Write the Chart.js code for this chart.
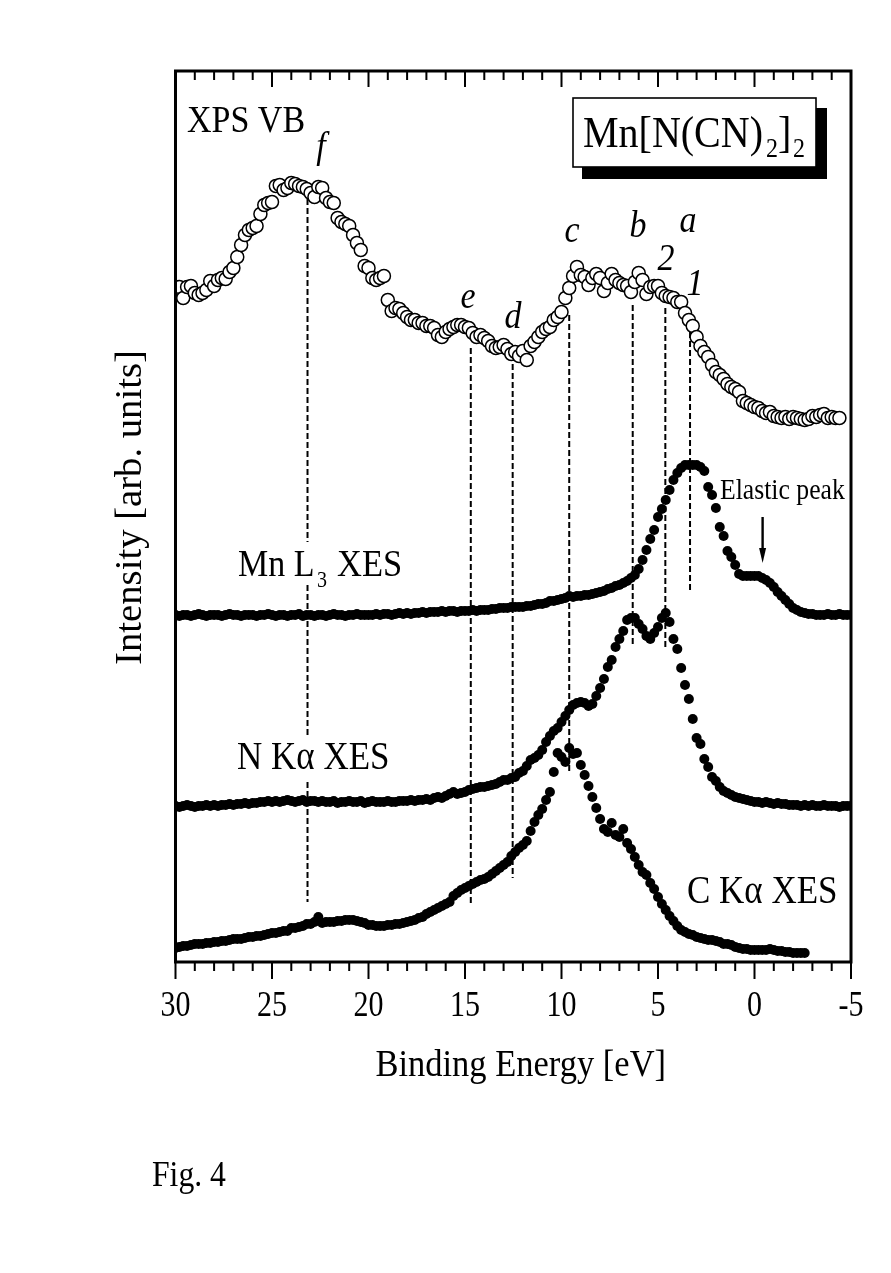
<!DOCTYPE html>
<html><head><meta charset="utf-8">
<style>html,body{margin:0;padding:0;background:#fff}canvas{display:block}</style>
<script src="https://cdn.jsdelivr.net/npm/chart.js@4"></script>
</head><body><canvas id="c" width="891" height="1273"></canvas>
<script>
const energy = [
30,29.8,29.6,29.4,29.2,29,28.8,28.6,28.4,28.2,
28,27.8,27.6,27.4,27.2,27,26.8,26.6,26.4,26.2,
26,25.8,25.6,25.4,25.2,25,24.8,24.6,24.4,24.2,
24,23.8,23.6,23.4,23.2,23,22.8,22.6,22.4,22.2,
22,21.8,21.6,21.4,21.2,21,20.8,20.6,20.4,20.2,
20,19.8,19.6,19.4,19.2,19,18.8,18.6,18.4,18.2,
18,17.8,17.6,17.4,17.2,17,16.8,16.6,16.4,16.2,
16,15.8,15.6,15.4,15.2,15,14.8,14.6,14.4,14.2,
14,13.8,13.6,13.4,13.2,13,12.8,12.6,12.4,12.2,
12,11.8,11.6,11.4,11.2,11,10.8,10.6,10.4,10.2,
10,9.8,9.6,9.4,9.2,9,8.8,8.6,8.4,8.2,
8,7.8,7.6,7.4,7.2,7,6.8,6.6,6.4,6.2,
6,5.8,5.6,5.4,5.2,5,4.8,4.6,4.4,4.2,
4,3.8,3.6,3.4,3.2,3,2.8,2.6,2.4,2.2,
2,1.8,1.6,1.4,1.2,1,0.8,0.6,0.4,0.2,
0,-0.2,-0.4,-0.6,-0.8,-1,-1.2,-1.4,-1.6,-1.8,
-2,-2.2,-2.4,-2.6,-2.8,-3,-3.2,-3.4,-3.6,-3.8,
-4,-4.2,-4.4,-4.6,-4.8,-5];

const xpsVB = [
null,675,664,675,676,669,667,669,672,681,
676,682,684,683,690,694,705,717,727,732,
734,736,748,757,759,760,776,777,772,774,
779,778,776,775,773,769,765,775,774,764,
760,759,744,740,738,736,727,719,712,696,
694,684,682,684,686,662,651,654,653,649,
645,642,642,639,639,636,636,634,627,625,
630,633,635,637,637,635,634,629,625,627,
624,621,616,614,615,617,613,608,610,606,
611,602,616,620,625,630,633,635,642,645,
650,664,674,686,695,687,685,677,684,688,
684,671,679,688,682,679,677,676,670,680,
689,682,668,675,676,676,669,666,665,664,
660,660,649,642,636,625,616,610,605,597,
590,587,583,578,575,573,570,561,559,557,
555,554,551,549,550,546,545,544,545,543,
545,544,543,542,543,546,545,547,548,544,
545,544,544,null,null,null];

const mnL3 = [
347,346,347,347,346,347,348,347,346,347,
347,347,346,347,348,347,347,346,347,347,
347,346,347,347,348,347,346,347,347,346,
347,347,348,346,347,347,346,347,347,346,
347,348,347,347,346,347,347,348,347,347,
347,347,348,347,348,348,347,348,349,348,
349,348,349,349,350,349,350,350,350,351,
350,351,351,350,351,351,351,352,351,352,
352,352,353,353,354,354,354,355,355,355,
355,356,356,357,358,358,359,361,361,362,
363,364,366,365,366,366,367,367,368,369,
370,371,373,374,376,377,379,381,384,387,
393,402,412,423,432,445,453,462,472,482,
489,494,497,497,497,497,495,491,475,467,
454,435,426,411,405,397,388,386,386,386,
386,386,384,382,379,375,370,366,362,358,
354,352,350,349,348,348,347,347,347,348,
347,347,348,347,347,347];

const nKa = [
156,155,156,157,156,155,156,156,157,156,
157,156,157,157,158,157,158,158,159,158,
159,159,160,160,161,160,161,160,161,162,
161,160,161,162,160,161,161,160,161,160,
160,161,159,160,160,161,160,160,161,159,
160,161,160,160,160,161,160,160,161,161,
161,162,161,162,162,163,162,164,165,164,
166,168,170,168,169,170,172,173,174,175,
175,176,177,178,180,182,182,184,185,189,
191,196,202,204,207,212,220,226,231,234,
240,246,252,257,259,260,259,256,258,266,
274,283,295,302,315,323,331,342,344,344,
338,333,326,323,329,335,344,349,340,323,
313,294,277,263,243,224,218,203,195,185,
181,175,171,169,167,165,164,163,162,161,
160,160,159,160,159,158,159,158,158,157,
157,157,156,157,156,157,156,156,157,156,
156,156,155,156,156,156];

const cKa = [
14,15,16,16,17,18,18,18,19,19,
20,20,21,21,22,23,23,23,24,25,
25,26,26,27,28,29,29,30,31,31,
34,34,35,36,38,38,40,45,39,40,
40,40,41,41,42,42,42,41,40,39,
37,37,36,36,36,37,37,38,38,39,
40,41,42,44,45,48,50,52,54,56,
58,60,66,69,72,74,76,78,80,82,
83,85,88,91,94,97,100,106,110,114,
117,121,131,140,147,153,162,170,190,209,
205,200,214,208,209,197,187,176,165,154,
143,133,130,139,127,125,133,119,113,105,
97,90,87,79,73,65,58,52,46,41,
36,32,30,28,27,25,24,23,22,22,
21,20,18,18,17,15,14,13,13,12,
12,12,12,12,13,12,11,11,10,10,
9,9,9,9,null,null,null,null,null,null,
null,null,null,null,null,null];

const xTickValues = [30,25,20,15,10,5,0,-5];
const dropF = [[23.16,772],[23.16,420],[23.16,null],[23.16,377],[23.16,227],[23.16,null],[23.16,180],[23.16,60]];
const dropE = [[14.7,614],[14.7,59]];
const dropD = [[12.53,607],[12.53,84]];
const dropC = [[9.6,647],[9.6,190]];
const dropB = [[6.31,657],[6.31,317]];
const drop2 = [[4.62,654],[4.62,315]];
const drop1 = [[3.34,630],[3.34,370]];
const elasticArrow = {energy:-0.42, from:445, to:399};

const SERIF = '"Liberation Serif","Times New Roman",serif';
const pts = v => energy.map((e,i)=>({x:e,y:v[i]})).filter(p=>p.y!==null);
const linePts = a => a.map(p=>({x:p[0],y:p[1]}));
const dash = (label,a)=>({label,data:linePts(a),showLine:true,spanGaps:false,borderColor:'#000',borderWidth:2,borderDash:[6,3],pointRadius:0,order:5,fill:false});
const filled = (label,v)=>({label,data:pts(v),showLine:false,pointRadius:5,pointBackgroundColor:'#000',pointBorderColor:'#000',pointBorderWidth:0,order:2});

function around(ctx,cx,cy,sx,sy,dx,dy,fn){
  ctx.save();ctx.translate(cx+dx,cy+dy);ctx.scale(sx,sy);ctx.translate(-cx,-cy);fn();ctx.restore();
}
const VS = 1.13;
function txt(ctx,s,x,y,size,opt={}){
  ctx.save();
  ctx.fillStyle='#000';
  ctx.font=(opt.italic?'italic ':'')+size+'px '+SERIF;
  ctx.textAlign=opt.align||'left';ctx.textBaseline='alphabetic';
  ctx.translate(x,y);ctx.scale(1,VS);
  ctx.fillText(s,0,0);
  ctx.restore();
}

const decor = {
  id:'decor',
  beforeDraw(chart){
    if(chart.$patched) return; chart.$patched=true;
    const ctx=chart.ctx,X=chart.scales.x,Y=chart.scales.y;
    const xt=X.drawTitle,xl=X.drawLabels,yt=Y.drawTitle;
    X.drawTitle=function(){around(ctx,513,1065,1,VS,7.5,2,()=>xt.call(X));};
    X.drawLabels=function(a){around(ctx,513,1005,1,1.2,0,0,()=>xl.call(X,a));};
    Y.drawTitle=function(){around(ctx,130,516.5,1,1,0,-9,()=>yt.call(Y));};
  },
  afterDraw(chart){
    const ctx=chart.ctx,a=chart.chartArea,X=chart.scales.x,Y=chart.scales.y;
    ctx.save();
    ctx.strokeStyle='#000';ctx.lineWidth=3;
    ctx.strokeRect(a.left,a.top,a.right-a.left,a.bottom-a.top);
    ctx.lineWidth=2;
    X.ticks.forEach(t=>{
      const p=X.getPixelForValue(t.value),maj=xTickValues.includes(t.value);
      ctx.beginPath();
      ctx.moveTo(p,a.bottom);ctx.lineTo(p,a.bottom+(maj?17:9));
      ctx.moveTo(p,a.top);ctx.lineTo(p,a.top+(maj?16:9));
      ctx.stroke();
    });
    ctx.fillStyle='#000';ctx.fillRect(582,108,245,71);
    ctx.fillStyle='#fff';ctx.fillRect(573,98,243,69);
    ctx.lineWidth=1.6;ctx.strokeRect(573,98,243,69);
    txt(ctx,'Mn[N(CN)',583,147,40);
    txt(ctx,'2',766,157,24);
    txt(ctx,']',778,147,40);
    txt(ctx,'2',793,157,24);
    const ax=X.getPixelForValue(elasticArrow.energy),y0=Y.getPixelForValue(elasticArrow.from),y1=Y.getPixelForValue(elasticArrow.to);
    ctx.lineWidth=2.4;ctx.beginPath();ctx.moveTo(ax,y0);ctx.lineTo(ax,y1-8);ctx.stroke();
    ctx.fillStyle='#000';ctx.beginPath();ctx.moveTo(ax,y1);ctx.lineTo(ax-3.5,y1-15);ctx.lineTo(ax+3.5,y1-15);ctx.closePath();ctx.fill();
    ctx.restore();
    txt(ctx,'XPS VB',187,132,34);
    [['f',321,158],['e',468,308],['d',513,328],['c',572,242],['b',638,237],['a',688,232],['2',666,270],['1',695,295]]
      .forEach(l=>txt(ctx,l[0],l[1],l[2],34,{italic:true,align:'center'}));
    txt(ctx,'Mn L',238,576,34);
    txt(ctx,'3',317,587,20);
    txt(ctx,'XES',337,576,34.5);
    txt(ctx,'N K\u03b1 XES',237,769,35);
    txt(ctx,'C K\u03b1 XES',687,903,35);
    txt(ctx,'Elastic peak',720,499,25.7);
    txt(ctx,'Fig. 4',152,1186,31.7);
  }
};

new Chart(document.getElementById('c').getContext('2d'),{
  type:'scatter',
  data:{datasets:[
    dash('f',dropF),dash('e',dropE),dash('d',dropD),dash('c',dropC),dash('b',dropB),dash('2',drop2),dash('1',drop1),
    filled('Mn L3 XES',mnL3),filled('N K\u03b1 XES',nKa),filled('C K\u03b1 XES',cKa),
    {label:'XPS VB',data:pts(xpsVB),showLine:false,pointRadius:6.5,pointBackgroundColor:'#fff',pointBorderColor:'#000',pointBorderWidth:1.5,order:1}
  ]},
  options:{
    responsive:false,animation:false,devicePixelRatio:1,
    layout:{padding:{left:0,top:71,right:40,bottom:0}},
    plugins:{legend:{display:false},tooltip:{enabled:false},title:{display:false}},
    scales:{
      x:{type:'linear',reverse:true,min:-5,max:30,position:'bottom',
        afterFit(s){s.height=311;},
        grid:{display:false,drawTicks:false},border:{display:false},
        ticks:{stepSize:1,autoSkip:false,maxRotation:0,padding:26,color:'#000',font:{family:SERIF,size:30},
          callback:v=>xTickValues.includes(v)?String(v):''},
        title:{display:true,text:'Binding Energy [eV]',color:'#000',font:{family:SERIF,size:34.5},padding:{top:0,bottom:188}}
      },
      y:{type:'linear',min:0,max:891,position:'left',
        afterFit(s){s.width=175.5;},
        grid:{display:false,drawTicks:false},border:{display:false},
        ticks:{display:false},
        title:{display:true,text:'Intensity [arb. units]',color:'#000',font:{family:SERIF,size:38.7},padding:{top:108,bottom:0}}
      }
    }
  },
  plugins:[decor]
});
</script></body></html>
